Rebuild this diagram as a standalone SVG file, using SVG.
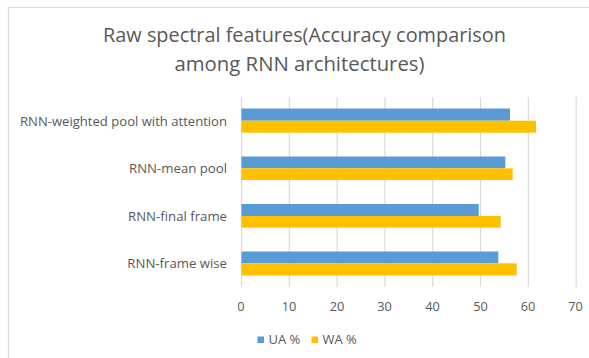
<svg xmlns="http://www.w3.org/2000/svg" width="589" height="358" viewBox="0 0 589 358">
  <style>
    .title { font-family: "Open Sans", "Liberation Sans", sans-serif; font-size: 20.5px; fill: #595959; text-anchor: middle; }
    .cat { font-family: "Open Sans", "Liberation Sans", sans-serif; font-size: 13.2px; fill: #595959; text-anchor: end; }
    .tick { font-family: "Open Sans", "Liberation Sans", sans-serif; font-size: 12.8px; fill: #595959; text-anchor: middle; }
    .leg { font-family: "Open Sans", "Liberation Sans", sans-serif; font-size: 13px; fill: #595959; }
    .grid { stroke: #d9d9d9; stroke-width: 1.2; }
    .ua { fill: #5b9bd5; }
    .wa { fill: #ffc000; }
  </style>
  <rect width="589" height="358" fill="#ffffff"/>
  <!-- chart frame -->
  <path d="M8.5 358 V7.5 H589" fill="none" stroke="#d9d9d9" stroke-width="1.2"/>

  <!-- title -->
  <g id="title">
    <text class="title" x="304.5" y="42" textLength="403" lengthAdjust="spacingAndGlyphs">Raw spectral features(Accuracy comparison</text>
    <text class="title" x="299.5" y="70.5" textLength="250" lengthAdjust="spacingAndGlyphs">among RNN architectures)</text>
  </g>

  <!-- vertical gridlines, 0..70 step 10 (4.78 px per unit, origin x=241.5) -->
  <g id="gridlines">
    <line class="grid" x1="241.5" y1="97" x2="241.5" y2="287"/>
    <line class="grid" x1="289.3" y1="97" x2="289.3" y2="287"/>
    <line class="grid" x1="337.1" y1="97" x2="337.1" y2="287"/>
    <line class="grid" x1="384.9" y1="97" x2="384.9" y2="287"/>
    <line class="grid" x1="432.7" y1="97" x2="432.7" y2="287"/>
    <line class="grid" x1="480.5" y1="97" x2="480.5" y2="287"/>
    <line class="grid" x1="528.3" y1="97" x2="528.3" y2="287"/>
    <line class="grid" x1="576.1" y1="97" x2="576.1" y2="287"/>
  </g>

  <!-- bars -->
  <g id="bar-weighted-pool">
    <rect class="ua" x="241.5" y="108.5" width="268.5" height="12.2"/>
    <rect class="wa" x="241.5" y="120.7" width="294.5" height="12"/>
  </g>
  <g id="bar-mean-pool">
    <rect class="ua" x="241.5" y="156.5" width="263.8" height="11.8"/>
    <rect class="wa" x="241.5" y="168.3" width="271.2" height="11.7"/>
  </g>
  <g id="bar-final-frame">
    <rect class="ua" x="241.5" y="204" width="237.2" height="12"/>
    <rect class="wa" x="241.5" y="216" width="259.2" height="11.7"/>
  </g>
  <g id="bar-frame-wise">
    <rect class="ua" x="241.5" y="251.5" width="256.8" height="11.8"/>
    <rect class="wa" x="241.5" y="263.3" width="275.2" height="12.2"/>
  </g>

  <!-- category labels -->
  <g id="categories">
    <text class="cat" x="227" y="126" textLength="207" lengthAdjust="spacingAndGlyphs">RNN-weighted pool with attention</text>
    <text class="cat" x="227" y="173">RNN-mean pool</text>
    <text class="cat" x="227" y="220.5">RNN-final frame</text>
    <text class="cat" x="227" y="268">RNN-frame wise</text>
  </g>

  <!-- axis tick labels -->
  <g id="ticks">
    <text class="tick" x="241" y="311">0</text>
    <text class="tick" x="289" y="311">10</text>
    <text class="tick" x="337" y="311">20</text>
    <text class="tick" x="384.5" y="311">30</text>
    <text class="tick" x="432.5" y="311">40</text>
    <text class="tick" x="480.5" y="311">50</text>
    <text class="tick" x="528" y="311">60</text>
    <text class="tick" x="575.5" y="311">70</text>
  </g>

  <!-- legend -->
  <g id="legend">
    <rect class="ua" x="257.5" y="336.5" width="6.5" height="6.5"/>
    <text class="leg" x="268.5" y="344">UA %</text>
    <rect class="wa" x="311.5" y="336.5" width="6.5" height="6.5"/>
    <text class="leg" x="322.5" y="344">WA %</text>
  </g>
</svg>
